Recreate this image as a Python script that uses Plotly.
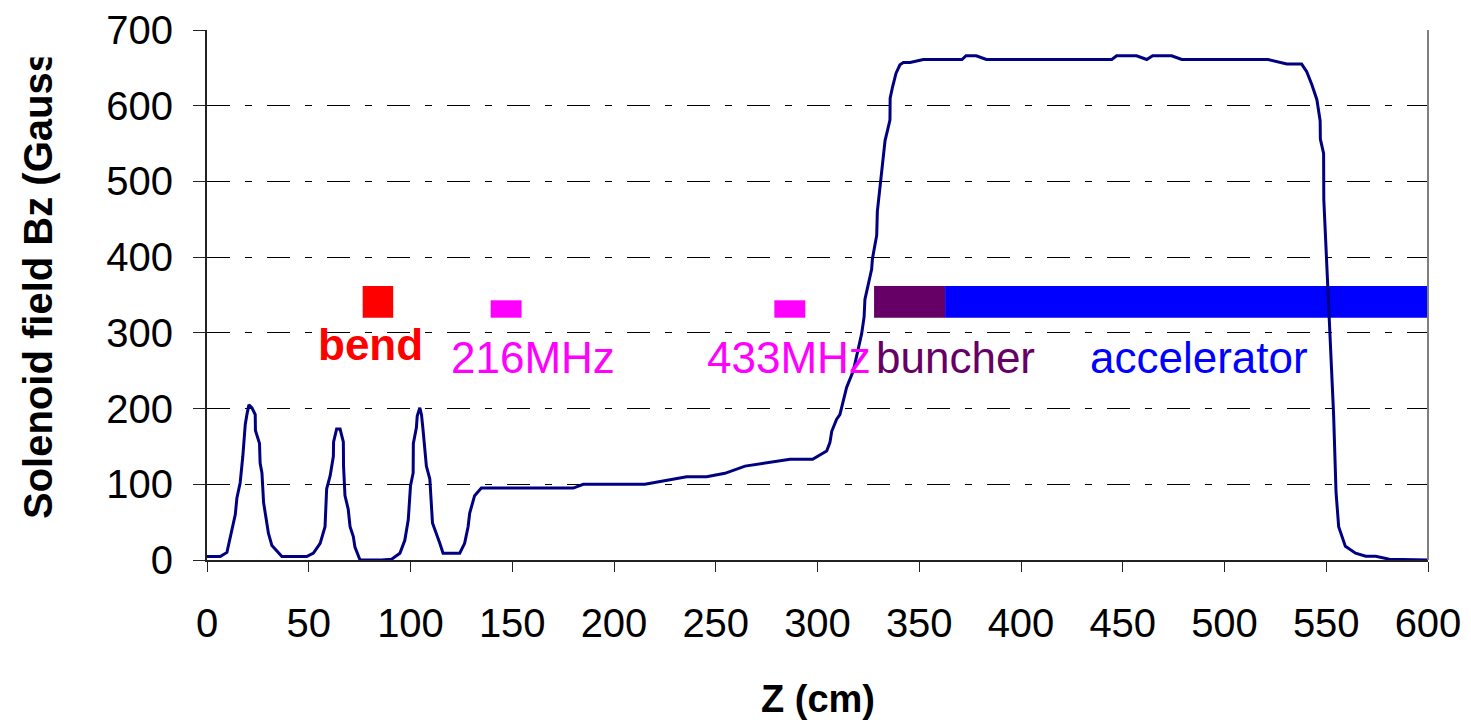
import plotly.graph_objects as go

# ---- Solenoid field profile ----
z_cm = [
    0, 6.5, 9.8, 11.4, 13.9, 14.7, 16.3, 17.6, 18.8, 19.6, 20.6, 22.1, 23.7, 23.8, 25.8, 26.1, 27.0, 27.8, 29.4, 30.2, 31.9, 36.8,
    49, 52.3, 55.6, 58, 58.8, 60.5, 62.1, 62.2, 63.7, 65.4, 67, 67.1, 67.8, 69.4, 70.3, 71.9, 72.7, 75.2,
    85.8, 90.7, 94.8, 97.2, 98.9, 100, 101.3, 101.4, 102.9, 103.3, 104.6, 105.4, 106.2, 107.8, 109.5, 110.8, 114.4, 116,
    124.2, 126.6, 128.3, 129.1, 131.5, 134.8,
    180, 184.9, 215.2, 235.7, 245.5, 254.5, 264.4, 286.5, 297.6, 304.5, 306.1, 307, 309.4,
    311, 314.3, 317.6, 321.7, 322.9, 323.3, 325, 326.6, 327, 329.1, 329.4, 331.5, 333.2, 335.6, 335.7, 336.9, 338.6, 340.5, 342.2, 345.5, 352,
    371, 373, 378, 383, 444.6, 447, 456.8, 461.8, 464.7, 474, 479, 521.5, 530.6, 537.9,
    540.4, 542.9, 545.4, 547, 547.1, 548.7, 548.8, 551.2, 553.6, 554.8, 556.1, 559.4, 564.4, 569.4, 574.3, 581, 600,
]
bz_gauss = [
    4.5, 4.5, 10, 31, 60, 82, 102, 137, 179, 192, 205, 201, 192, 171, 154, 128, 115, 76, 49, 35, 19, 4.5,
    4.5, 9, 22, 44, 94, 111, 137, 156, 173, 173, 156, 124, 85, 67, 44, 31, 17, 0,
    0, 1, 9, 26, 53, 98, 115, 154, 175, 190, 201, 192, 171, 124, 107, 49, 22, 9,
    9, 22, 44, 62, 85, 95,
    95, 100, 100, 110, 110, 114.5, 124, 133, 133, 144, 155, 170, 186,
    192, 228, 250, 299, 321, 344, 366, 384, 398, 429, 460, 510, 554, 581, 610, 625, 643, 654, 657, 657, 661,
    661, 666, 666, 661, 661, 666, 666, 661, 666, 666, 661, 661, 655, 655,
    645, 628, 608, 580, 556, 537, 476, 330, 193, 90, 44, 18, 9, 5, 5, 1, 0,
]
assert len(z_cm) == len(bz_gauss)

# ---- Beamline components (extent in z and the band drawn) ----
comp_names = ["bend", "216MHz", "433MHz", "buncher", "accelerator"]
comp_z_start = [76.5, 139.4, 278.8, 327.8, 362.7]
comp_z_end = [91.5, 154.6, 294.0, 362.7, 600.0]
comp_b_low = [320, 320, 320, 320, 320]
comp_b_high = [362, 343, 343, 362, 362]
comp_colors = ["#FF0000", "#FF00FF", "#FF00FF", "#660066", "#0000FF"]

# label anchors (z, Bz) and styles
label_z = [80.3, 160.2, 286.1, 367.6, 487.3]
label_b = [285, 267, 267, 267, 267]
label_bold = [True, False, False, False, False]

x_ticks = list(range(0, 601, 50))
y_ticks = list(range(0, 701, 100))

FONT = "Liberation Sans, Arial, sans-serif"

fig = go.Figure()

for name, z0, z1, b0, b1, col in zip(comp_names, comp_z_start, comp_z_end,
                                     comp_b_low, comp_b_high, comp_colors):
    fig.add_trace(go.Scatter(
        x=[z0, z1, z1, z0, z0], y=[b0, b0, b1, b1, b0],
        mode="lines", fill="toself", fillcolor=col,
        line=dict(width=0, color=col), hoverinfo="skip", showlegend=False,
    ))

fig.add_trace(go.Scatter(
    x=z_cm, y=bz_gauss, mode="lines",
    line=dict(color="#000080", width=3),
    showlegend=False,
))

for name, lz, lb, bold, col in zip(comp_names, label_z, label_b, label_bold, comp_colors):
    fig.add_annotation(
        x=lz, y=lb, xref="x", yref="y",
        text=f"<b>{name}</b>" if bold else name,
        showarrow=False, xanchor="center", yanchor="middle",
        font=dict(family=FONT, size=44, color=col),
    )

# axis titles
fig.add_annotation(
    x=0.5004, y=-0.262, xref="paper", yref="paper",
    text="<b>Z (cm)</b>", showarrow=False, xanchor="center", yanchor="middle",
    font=dict(family=FONT, size=38, color="black"),
)
fig.add_annotation(
    x=-0.1384, y=0.0736, xref="paper", yref="paper",
    text="<b>Solenoid field Bz (Gauss)</b>", textangle=-90,
    showarrow=False, xanchor="center", yanchor="bottom",
    font=dict(family=FONT, size=40, color="black"),
)
# the chart area clips the y title at its top
fig.add_annotation(
    x=-0.1286, y=1.0038, xref="paper", yref="paper",
    text=" ", showarrow=False, xanchor="center", yanchor="middle",
    width=100, height=57, bgcolor="white",
)

# right border of plot area
fig.add_shape(type="line", xref="paper", yref="paper", x0=1, x1=1, y0=0, y1=1,
              line=dict(color="#808080", width=2))

# the page body adds an 8px margin; size the figure so the plot lands in place
fig.update_layout(
    width=1463, height=715,
    margin=dict(l=199, r=43, t=22, b=163),
    paper_bgcolor="white", plot_bgcolor="white",
    font=dict(family=FONT, size=40, color="black"),
    showlegend=False,
)
fig.update_xaxes(
    range=[0, 600], tickvals=x_ticks, ticktext=[str(v) for v in x_ticks],
    showgrid=False, zeroline=False, automargin=False,
    showline=True, linecolor="#222222", linewidth=2,
    ticks="outside", ticklen=10, tickcolor="#222222", tickwidth=1,
    tickfont=dict(family=FONT, size=40, color="black"),
    ticklabelstandoff=17,
)
fig.update_yaxes(
    range=[0, 700], tickvals=y_ticks, ticktext=[str(v) for v in y_ticks],
    showgrid=True, gridcolor="black", gridwidth=1, griddash="23px,15px,7px,15px",
    zeroline=False, automargin=False,
    showline=True, linecolor="#222222", linewidth=2,
    ticks="outside", ticklen=12, tickcolor="#222222", tickwidth=1,
    tickfont=dict(family=FONT, size=40, color="black"),
    ticklabelstandoff=12,
)

fig.write_html("out.html")
